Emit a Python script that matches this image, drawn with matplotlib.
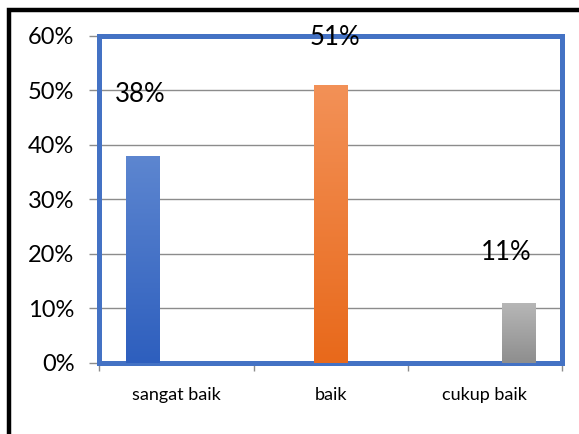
import numpy as np
from matplotlib import pyplot as plt
from matplotlib.patches import Rectangle
from matplotlib.colors import LinearSegmentedColormap
from matplotlib.ticker import FuncFormatter

categories = ['sangat baik', 'baik', 'cukup baik']
values = [38, 51, 11]
labels = ['38%', '51%', '11%']
# gradient colours for each bar (top, bottom)
grad_top = ['#5D86D0', '#F39157', '#B7B7B7']
grad_bottom = ['#2E5FBE', '#E8691B', '#8E8E8E']

plt.rcParams['font.family'] = ['Lato', 'DejaVu Sans']

fig = plt.figure(figsize=(5.79, 4.34), dpi=100)
ax = fig.add_axes([0.1718, 0.1636, 0.7988, 0.7546])

width = 0.22
x = np.arange(len(categories))
# each series sits at its own slot inside the cluster of three
offsets = (np.arange(len(categories)) - 1) * width
bars = ax.bar(x + offsets, values, width=width, color='none', zorder=3)

for b, top, bot in zip(bars, grad_top, grad_bottom):
    cmap = LinearSegmentedColormap.from_list('g', [bot, top])
    x0, y0 = b.get_x(), b.get_y()
    grad = np.linspace(0, 1, 100).reshape(-1, 1)
    im = ax.imshow(grad, cmap=cmap, origin='lower', aspect='auto',
                   extent=[x0, x0 + b.get_width(), y0, y0 + b.get_height()],
                   zorder=3)
    im.set_clip_path(b)

# labels sit a bit above the bars, as in the original
label_dx = [-2, 3, -9]
label_dy = [44, 34, 36]
for b, lab, dx, dy in zip(bars, labels, label_dx, label_dy):
    ax.annotate(lab, (b.get_x() + b.get_width() / 2, b.get_height()),
                xytext=(dx, dy), textcoords='offset points',
                ha='center', va='center', fontsize=18.5, zorder=5)

ax.set_xlim(-0.5, 2.5)
ax.set_ylim(0, 60)
ax.set_yticks(np.arange(0, 61, 10))
ax.yaxis.set_major_formatter(FuncFormatter(lambda v, p: '%d%%' % v))
ax.grid(True, axis='y', color='#8C8C8C', linewidth=1, zorder=1)
ax.set_axisbelow(True)

ax.set_xticks(x)
ax.set_xticklabels(categories, fontsize=13)
ax.set_xticks([-0.5, 0.5, 1.5, 2.5], minor=True)
ax.tick_params(axis='x', which='major', length=0, pad=17)
ax.tick_params(axis='x', which='minor', length=6, color='#8C8C8C', width=1)
ax.tick_params(axis='y', length=7, color='#8C8C8C', width=1, pad=11, labelsize=17)

for s in ax.spines.values():
    s.set_color('#4472C4')
    s.set_linewidth(3.6)

# black outer frame
fig.add_artist(Rectangle((0.0147, -0.2), 1.2, 0.2 + 0.978, fill=False,
                         edgecolor='black', linewidth=3.2,
                         transform=fig.transFigure))

fig.savefig('out.png', dpi=100)
